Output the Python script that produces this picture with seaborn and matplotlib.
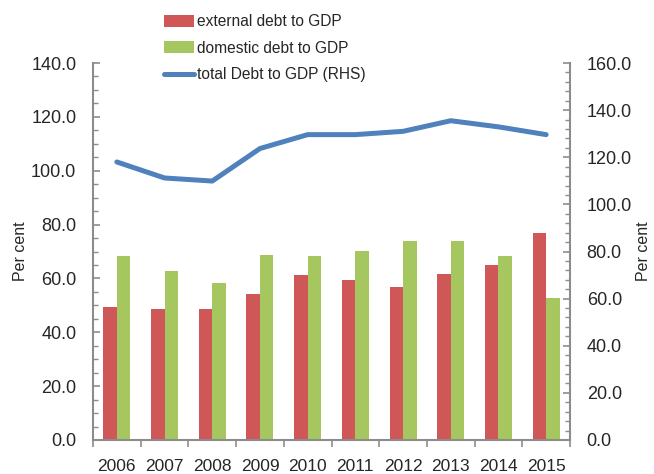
import matplotlib
matplotlib.use("Agg")
import matplotlib.pyplot as plt
from matplotlib.ticker import MultipleLocator, FormatStrFormatter, FixedLocator
import numpy as np
import pandas as pd
import seaborn as sns

years = ["2006", "2007", "2008", "2009", "2010", "2011", "2012", "2013", "2014", "2015"]
external_debt = [49.3, 48.6, 48.6, 54.1, 61.1, 59.3, 56.9, 61.8, 64.9, 76.7]
domestic_debt = [68.3, 62.9, 58.2, 68.8, 68.3, 70.1, 73.8, 73.8, 68.3, 52.7]
total_debt = [118.0, 111.2, 109.9, 123.7, 129.6, 129.6, 131.0, 135.5, 132.9, 129.6]

series_names = ["external debt to GDP", "domestic debt to GDP", "total Debt to GDP (RHS)"]
RED = "#CF5757"
GREEN = "#A6C760"
BLUE = "#4F81BD"
AXIS_GREY = "#8C8C8C"

sns.set_theme(style="white")
plt.rcParams["font.family"] = ["Liberation Sans", "DejaVu Sans"]

bars = pd.DataFrame({
    "year": years * 2,
    "value": external_debt + domestic_debt,
    "series": [series_names[0]] * len(years) + [series_names[1]] * len(years),
})

fig = plt.figure(figsize=(6.54, 4.74), dpi=100)
ax = fig.add_axes([93 / 654, 1 - 440 / 474, (570 - 93) / 654, (440 - 63) / 474])

sns.barplot(data=bars, x="year", y="value", hue="series", order=years,
            hue_order=series_names[:2], palette=[RED, GREEN], width=0.566,
            saturation=1, linewidth=0, ax=ax)

ax2 = ax.twinx()
positions = np.arange(len(years))
sns.lineplot(x=positions, y=total_debt, ax=ax2, color=BLUE, linewidth=3.6,
             label=series_names[2])

# left axis
ax.set_xlim(-0.5, len(years) - 0.5)
ax.set_ylim(0, 140)
ax.yaxis.set_major_locator(MultipleLocator(20))
ax.yaxis.set_minor_locator(MultipleLocator(5))
ax.yaxis.set_major_formatter(FormatStrFormatter("%.1f"))
ax.set_ylabel("Per cent", fontsize=11.5, labelpad=2)
ax.set_xlabel("")

# right axis
ax2.set_ylim(0, 160)
ax2.yaxis.set_major_locator(MultipleLocator(20))
ax2.yaxis.set_minor_locator(MultipleLocator(4))
ax2.yaxis.set_major_formatter(FormatStrFormatter("%.1f"))
ax2.set_ylabel("Per cent", fontsize=11.5, labelpad=3)

# category axis: labels centred, ticks on the boundaries
ax.xaxis.set_minor_locator(FixedLocator(np.arange(-0.5, len(years), 1.0)))
ax.tick_params(axis="x", which="major", length=0, pad=14, labelsize=12.5)
ax.tick_params(axis="x", which="minor", direction="out", length=5, width=1.2,
               color=AXIS_GREY, bottom=True)

for a in (ax, ax2):
    a.tick_params(axis="y", which="major", direction="in", length=5, width=1.2,
                  color=AXIS_GREY, labelsize=13, pad=12)
    a.tick_params(axis="y", which="minor", direction="in", length=3.5, width=1.0,
                  color=AXIS_GREY)
    for s in a.spines.values():
        s.set_visible(False)

ax.tick_params(axis="y", left=True, right=False, which="both")
ax2.tick_params(axis="y", left=False, right=True, which="both")
ax.spines["left"].set_visible(True)
ax.spines["bottom"].set_visible(True)
ax2.spines["right"].set_visible(True)
for s in (ax.spines["left"], ax.spines["bottom"], ax2.spines["right"]):
    s.set_color(AXIS_GREY)
    s.set_linewidth(1.5)

h1, l1 = ax.get_legend_handles_labels()
h2, l2 = ax2.get_legend_handles_labels()
if ax.get_legend():
    ax.get_legend().remove()
if ax2.get_legend():
    ax2.get_legend().remove()

fig.legend(h1 + h2, l1 + l2, loc="upper left", bbox_to_anchor=(164 / 654, 1 - 14 / 474),
           frameon=False, fontsize=11.2, handlelength=1.9, handleheight=0.8,
           handletextpad=0.2, labelspacing=0.75, borderpad=0, borderaxespad=0)

fig.savefig("out.png", dpi=100)
